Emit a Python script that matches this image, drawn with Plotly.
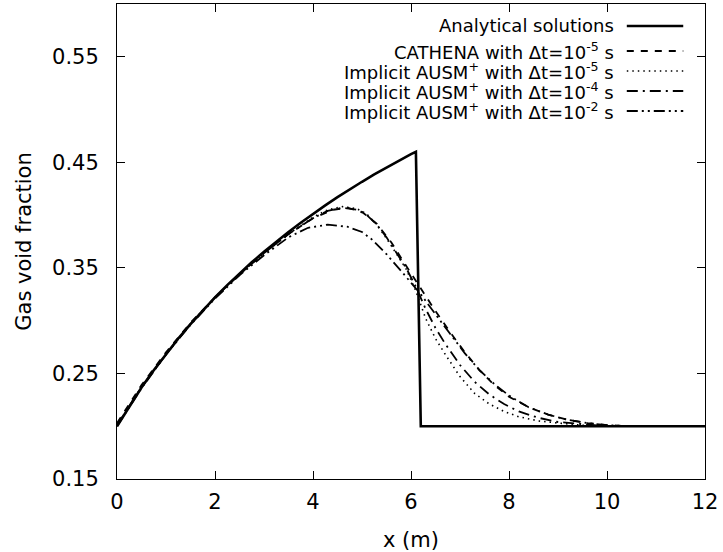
import plotly.graph_objects as go

# ---------------- data ----------------
x_ana = [0, 0.25, 0.5, 0.75, 1, 1.25, 1.5, 1.75, 2, 2.25, 2.5, 2.75, 3, 3.25, 3.5,
         3.75, 4, 4.25, 4.5, 4.75, 5, 5.25, 5.5, 5.75, 6, 6.1, 6.2, 12]
a_ana = [0.2000, 0.2189, 0.2366, 0.2530, 0.2685, 0.2831, 0.2968, 0.3098, 0.3220,
         0.3337, 0.3447, 0.3553, 0.3653, 0.3749, 0.3840, 0.3928, 0.4012, 0.4092,
         0.4170, 0.4245, 0.4316, 0.4385, 0.4452, 0.4516, 0.4578, 0.4600, 0.2000, 0.2000]

x_cat = [0, 0.5, 1, 1.5, 2, 2.5, 3, 3.5, 4, 4.4, 4.7, 5.0, 5.3, 5.6, 5.9, 6.2,
         6.5, 6.8, 7.1, 7.4, 7.7, 8.0, 8.4, 8.8, 9.2, 9.6, 10.0, 10.5, 11, 12]
a_cat = [0.203, 0.239, 0.270, 0.298, 0.322, 0.344, 0.364, 0.382, 0.397, 0.405,
         0.407, 0.403, 0.392, 0.374, 0.352, 0.330, 0.309, 0.289, 0.270, 0.253,
         0.239, 0.228, 0.218, 0.211, 0.206, 0.203, 0.201, 0.200, 0.200, 0.200]

x_a5 = [0, 0.5, 1, 1.5, 2, 2.5, 3, 3.5, 4, 4.3, 4.6, 4.9, 5.1, 5.3, 5.5, 5.7,
        5.9, 6.1, 6.3, 6.5, 6.7, 7.0, 7.3, 7.6, 7.9, 8.2, 8.6, 9.0, 9.5, 10, 11, 12]
a_a5 = [0.201, 0.237, 0.268, 0.297, 0.322, 0.344, 0.364, 0.382, 0.398, 0.405,
        0.408, 0.406, 0.401, 0.391, 0.378, 0.364, 0.349, 0.328, 0.302, 0.283,
        0.268, 0.247, 0.231, 0.221, 0.214, 0.209, 0.205, 0.203, 0.201, 0.200,
        0.200, 0.200]

x_a4 = [0, 0.5, 1, 1.5, 2, 2.5, 3, 3.5, 4, 4.3, 4.6, 4.9, 5.1, 5.3, 5.5, 5.7,
        5.9, 6.1, 6.3, 6.5, 6.7, 7.0, 7.3, 7.6, 7.9, 8.2, 8.6, 9.0, 9.5, 10, 11, 12]
a_a4 = [0.201, 0.237, 0.268, 0.297, 0.322, 0.344, 0.364, 0.382, 0.397, 0.404,
        0.407, 0.405, 0.400, 0.391, 0.379, 0.365, 0.350, 0.332, 0.311, 0.293,
        0.278, 0.258, 0.242, 0.230, 0.221, 0.214, 0.208, 0.204, 0.202, 0.200,
        0.200, 0.200]

x_a2 = [0, 0.5, 1, 1.5, 2, 2.5, 3, 3.5, 3.9, 4.3, 4.7, 5.0, 5.2, 5.5, 5.8, 6.0,
        6.2, 6.5, 6.8, 7.1, 7.4, 7.7, 8.0, 8.4, 8.8, 9.2, 9.6, 10.0, 10.5, 11, 12]
a_a2 = [0.200, 0.236, 0.268, 0.296, 0.321, 0.343, 0.362, 0.379, 0.388, 0.391,
        0.389, 0.384, 0.377, 0.363, 0.347, 0.336, 0.325, 0.306, 0.287, 0.269,
        0.253, 0.240, 0.229, 0.218, 0.211, 0.206, 0.203, 0.201, 0.200, 0.200, 0.200]

x_ticks = [0, 2, 4, 6, 8, 10, 12]
y_ticks = [0.15, 0.25, 0.35, 0.45, 0.55]

names = ["Analytical solutions",
         "CATHENA with \u0394t=10<sup>-5</sup> s",
         "Implicit AUSM<sup>+</sup> with \u0394t=10<sup>-5</sup> s",
         "Implicit AUSM<sup>+</sup> with \u0394t=10<sup>-4</sup> s",
         "Implicit AUSM<sup>+</sup> with \u0394t=10<sup>-2</sup> s"]

# ---------------- styles ----------------
FONT = "DejaVu Sans"
styles = [
    dict(width=2.6, dash="solid"),
    dict(width=1.8, dash="7px,7px"),
    dict(width=1.6, dash="1.5px,4px"),
    dict(width=1.8, dash="11px,5px,2px,5px"),
    dict(width=1.8, dash="11px,4px,2px,4px,2px,4px"),
]
series = [(x_ana, a_ana), (x_cat, a_cat), (x_a5, a_a5), (x_a4, a_a4), (x_a2, a_a2)]

fig = go.Figure()
for (xs, ys), st, nm in zip(series, styles, names):
    fig.add_trace(go.Scatter(x=xs, y=ys, mode="lines", name=nm, showlegend=False,
                             line=dict(color="black", width=st["width"], dash=st["dash"])))

# custom gnuplot-style key (text right aligned, sample on the right)
row_y = [0.9537, 0.9011, 0.8589, 0.8168, 0.7747]
for i, (nm, st) in enumerate(zip(names, styles)):
    fig.add_annotation(x=0.8486, y=row_y[i], xref="paper", yref="paper", text=nm,
                       showarrow=False, xanchor="right", yanchor="middle",
                       font=dict(family=FONT, size=18, color="black"))
    fig.add_shape(type="line", xref="paper", yref="paper", x0=0.867, x1=0.963,
                  y0=row_y[i], y1=row_y[i],
                  line=dict(color="black", width=st["width"], dash=st["dash"]))

axis_common = dict(showgrid=False, zeroline=False, showline=True, linecolor="black",
                   linewidth=1, mirror="ticks", ticks="inside", ticklen=8,
                   tickcolor="black", tickwidth=1,
                   tickfont=dict(family=FONT, size=21, color="black"))

fig.update_xaxes(range=[0, 12], tickvals=x_ticks, ticktext=[str(v) for v in x_ticks],
                 title=dict(text="x (m)", font=dict(family=FONT, size=21, color="black"),
                            standoff=19),
                 ticklabelstandoff=4, **axis_common)
fig.update_yaxes(range=[0.15, 0.6], tickvals=y_ticks, ticktext=[f"{v:.2f}" for v in y_ticks],
                 title=dict(text="Gas void fraction",
                            font=dict(family=FONT, size=21, color="black"), standoff=14),
                 ticklabelstandoff=13, **axis_common)

fig.update_layout(width=723, height=552, paper_bgcolor="white", plot_bgcolor="white",
                  margin=dict(l=117, r=18, t=4, b=73),
                  font=dict(family=FONT, color="black"))

fig.write_html("out.html")
